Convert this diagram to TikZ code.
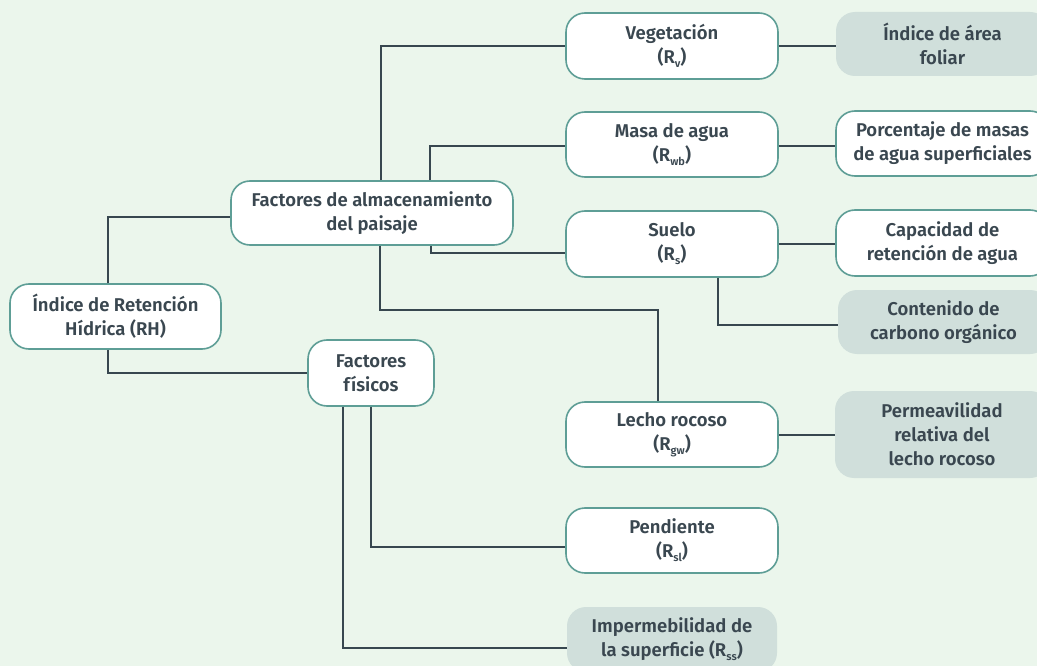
\documentclass[tikz,border=0pt]{standalone}
\usepackage{fontspec}
\setmainfont{Fira Sans}[BoldFont={Fira Sans SemiBold}]
\definecolor{bg}{HTML}{EBF6EC}
\definecolor{teal}{HTML}{5E9E96}
\definecolor{greybox}{HTML}{D0DFDB}
\definecolor{linec}{HTML}{37474F}
\definecolor{txt}{HTML}{3A4750}
\newcommand{\sub}[1]{\raisebox{-4pt}{\fontsize{11}{11}\selectfont #1}}
\tikzset{
  base/.style={rectangle, rounded corners=19pt, align=center, text=txt,
    font=\fontsize{18.5}{24}\selectfont\bfseries, inner sep=0pt},
  wbox/.style={base, draw=teal, line width=1.6pt, fill=white},
  gbox/.style={base, fill=greybox},
  conn/.style={draw=linec, line width=2pt},
}
\begin{document}
\begin{tikzpicture}[x=1pt,y=-1pt]
\useasboundingbox (0,0) rectangle (1037,666);
\fill[bg] (0,0) rectangle (1037,666);
\clip (0,0) rectangle (1037,666);

\node[wbox, minimum width=211pt, minimum height=65pt] (RH) at (115.5,316.5) {Índice de Retención\\Hídrica (RH)};
\node[wbox, minimum width=282pt, minimum height=64pt] (FA) at (372,213) {Factores de almacenamiento\\del paisaje};
\node[wbox, minimum width=126pt, minimum height=66pt] (FF) at (371,373) {Factores\\físicos};

\node[wbox, minimum width=212pt, minimum height=66pt] (V) at (672,46) {Vegetación\\(R\sub{v})};
\node[wbox, minimum width=212pt, minimum height=65pt] (M) at (672,144.5) {Masa de agua\\(R\sub{wb})};
\node[wbox, minimum width=212pt, minimum height=66pt] (S) at (672,244) {Suelo\\(R\sub{s})};
\node[wbox, minimum width=212pt, minimum height=65pt] (L) at (672,434.5) {Lecho rocoso\\(R\sub{gw})};
\node[wbox, minimum width=212pt, minimum height=65pt] (P) at (672,540.5) {Pendiente\\(R\sub{sl})};
\node[gbox, minimum width=210pt, minimum height=65pt] (I) at (672,639.5) {Impermebilidad de\\la superficie (R\sub{ss})};

\node[gbox, minimum width=213pt, minimum height=64pt] (IAF) at (942.5,44) {Índice de área\\foliar};
\node[wbox, minimum width=213pt, minimum height=65pt] (Por) at (942.5,143.5) {Porcentaje de masas\\de agua superficiales};
\node[wbox, minimum width=213pt, minimum height=66pt] (Cap) at (942.5,243) {Capacidad de\\retención de agua};
\node[gbox, minimum width=211pt, minimum height=64pt] (Con) at (943.5,322) {Contenido de\\carbono orgánico};
\node[gbox, minimum width=214pt, minimum height=87pt] (Perm) at (942,434.5) {Permeavilidad\\relativa del\\lecho rocoso};

\draw[conn] ([xshift=-7.5pt]RH.north) |- ([yshift=-4pt]FA.west);
\draw[conn] ([xshift=-7.5pt]RH.south) |- (FF.west);
\draw[conn] ([xshift=9pt]FA.north) |- (V.west);
\draw[conn] ([xshift=58pt]FA.north) |- ([yshift=-1.5pt]M.west);
\draw[conn] ([xshift=59pt]FA.south) |- ([yshift=-9pt]S.west);
\draw[conn] ([xshift=8pt]FA.south) -- ++(0,64) -| ([xshift=-14pt]L.north);
\draw[conn] ([xshift=46pt]S.south) |- ([yshift=-3pt]Con.west);
\draw[conn] (V.east) -- (V.east -| IAF.west);
\draw[conn] ([yshift=-1.5pt]M.east) -- ([yshift=-1.5pt]M.east -| Por.west);
\draw[conn] (S.east) -- (S.east -| Cap.west);
\draw[conn] (L.east) -- (L.east -| Perm.west);
\draw[conn] (FF.south) |- ([yshift=-6.5pt]P.west);
\draw[conn] ([xshift=-28pt]FF.south) |- ([yshift=-8.5pt]I.west);
\end{tikzpicture}
\end{document}
